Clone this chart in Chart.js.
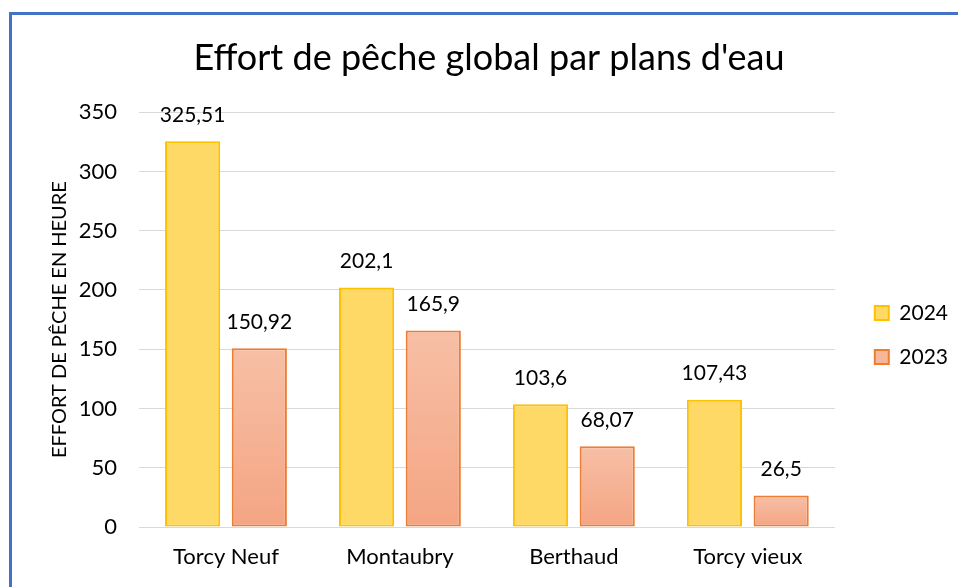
<!DOCTYPE html>
<html lang="fr">
<head>
  <meta charset="UTF-8">
  <title>Effort de pêche global par plans d'eau</title>
  <script src="https://cdn.jsdelivr.net/npm/chart.js"></script>
  <style>
    html, body { margin: 0; padding: 0; background: #fff; overflow: hidden; }
    #frame {
      position: absolute; left: 9px; top: 12px; width: 1000px; height: 700px;
      border-left: 3px solid #4472C4; border-top: 3px solid #4472C4;
    }
    #wrap { position: absolute; left: 0; top: 0; width: 958px; height: 587px; }
  </style>
</head>
<body>
  <div id="frame"></div>
  <div id="wrap"><canvas id="effortChart"></canvas></div>

  <script>
    const lakes = ['Torcy Neuf', 'Montaubry', 'Berthaud', 'Torcy vieux'];
    const effort2024 = [325.51, 202.1, 103.6, 107.43];
    const effort2023 = [150.92, 165.9, 68.07, 26.5];
    const yTicks = [0, 50, 100, 150, 200, 250, 300, 350];

    const FONT = "Lato, 'Open Sans', sans-serif";

    // gradient per bar for the 2023 series (lighter at the top)
    const salmonFill = (context) => {
      const chart = context.chart;
      const yScale = chart.scales.y;
      if (!chart.chartArea || !yScale) return '#F6B79B';
      const top = yScale.getPixelForValue(context.raw);
      const bottom = yScale.getPixelForValue(0);
      if (!isFinite(top) || !isFinite(bottom) || top === bottom) return '#F6B79B';
      const g = chart.ctx.createLinearGradient(0, top, 0, bottom);
      g.addColorStop(0, '#F7BFA6');
      g.addColorStop(1, '#F4A583');
      return g;
    };

    // values above each bar, French decimal comma
    const valueLabels = {
      id: 'valueLabels',
      afterDatasetsDraw(chart) {
        const ctx = chart.ctx;
        ctx.save();
        ctx.font = "21px " + FONT;
        ctx.fillStyle = '#000';
        ctx.textAlign = 'center';
        ctx.textBaseline = 'middle';
        chart.data.datasets.forEach((ds, i) => {
          chart.getDatasetMeta(i).data.forEach((bar, j) => {
            const txt = String(ds.data[j]).replace('.', ',');
            ctx.fillText(txt, bar.x, bar.y - 26);
          });
        });
        ctx.restore();
      }
    };

    new Chart(document.getElementById('effortChart'), {
      type: 'bar',
      data: {
        labels: lakes,
        datasets: [{
          label: '2024',
          data: effort2024,
          backgroundColor: '#FFD966',
          borderColor: '#FFC000',
          borderWidth: 2,
          borderSkipped: false
        }, {
          label: '2023',
          data: effort2023,
          backgroundColor: salmonFill,
          borderColor: '#ED7D31',
          borderWidth: 2,
          borderSkipped: false
        }]
      },
      options: {
        responsive: true,
        maintainAspectRatio: false,
        animation: false,
        categoryPercentage: 0.767,
        barPercentage: 0.827,
        layout: { padding: { left: 20, right: 0, top: 37, bottom: 0 } },
        plugins: {
          title: {
            display: true,
            text: "Effort de pêche global par plans d'eau",
            color: '#000',
            font: { family: FONT, size: 36, weight: 'normal' },
            padding: { top: 0, bottom: 32 }
          },
          legend: {
            position: 'right',
            title: { display: true, text: '', font: { size: 1 }, padding: { top: 45, bottom: 0 } },
            labels: {
              color: '#000',
              font: { family: FONT, size: 21 },
              boxWidth: 14,
              boxHeight: 14,
              padding: 23,
              generateLabels(chart) {
                const items = Chart.defaults.plugins.legend.labels.generateLabels(chart);
                items.forEach(it => {
                  if (it.text === '2023') it.fillStyle = '#F6B79B';
                  it.lineWidth = 2;
                });
                return items;
              }
            }
          },
          tooltip: { enabled: false }
        },
        scales: {
          x: {
            grid: { display: false },
            border: { display: false },
            ticks: { color: '#000', font: { family: FONT, size: 22 }, padding: 9 },
            afterFit(axis) { axis.height = 60; }
          },
          y: {
            min: 0,
            max: 350,
            afterBuildTicks(axis) { axis.ticks = yTicks.map(v => ({ value: v })); },
            grid: { color: '#D9D9D9', lineWidth: 1, drawTicks: false },
            border: { display: false },
            ticks: { color: '#000', font: { family: FONT, size: 22 }, padding: 22 },
            title: {
              display: true,
              text: 'EFFORT DE PÊCHE EN HEURE',
              color: '#000',
              font: { family: FONT, size: 20 },
              padding: { top: 28, bottom: 9 }
            },
            afterFit(axis) { axis.width = 119; }
          },
          // empty right axis: keeps the gap between the plot and the legend
          yr: {
            position: 'right',
            display: true,
            grid: { display: false },
            border: { display: false },
            ticks: { display: false },
            afterFit(axis) { axis.width = 17; }
          }
        }
      },
      plugins: [valueLabels]
    });
  </script>
</body>
</html>
